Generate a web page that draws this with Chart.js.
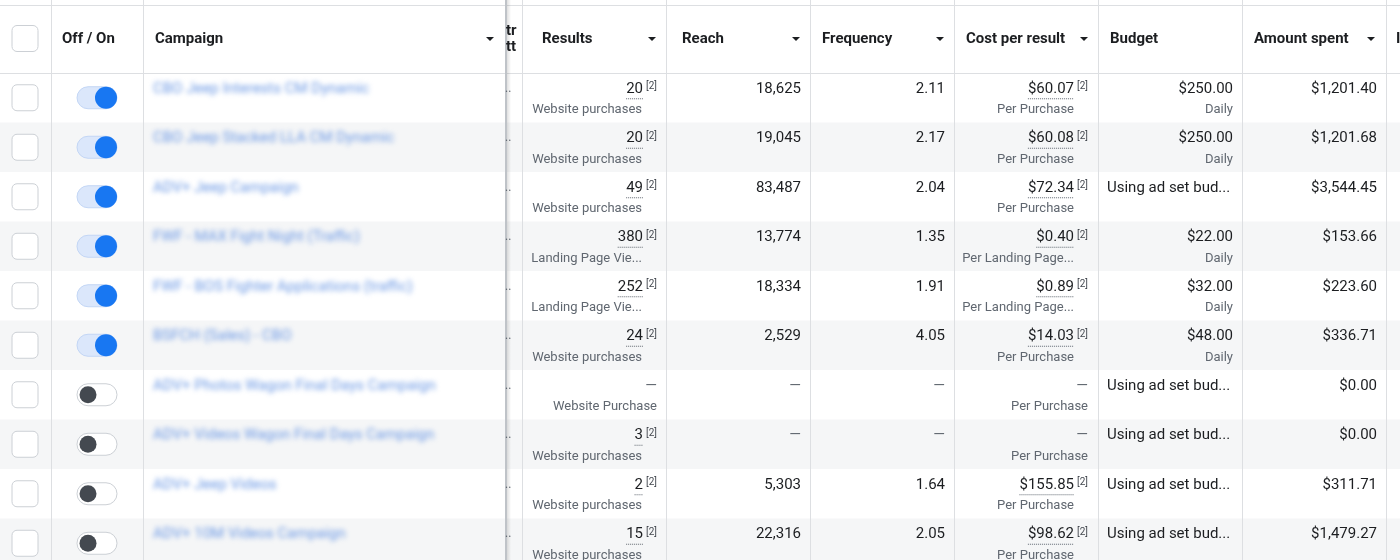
<!DOCTYPE html>
<html>
<head>
<meta charset="utf-8">
<script src="https://cdn.jsdelivr.net/npm/chart.js@4"></script>
<style>
  html, body { margin: 0; padding: 0; background: #fff; }
  #wrap { width: 1400px; height: 560px; }
</style>
</head>
<body>
<div id="wrap"><canvas id="table"></canvas></div>
<script>
'use strict';

const campaigns = ['CBO Jeep Interests CM Dynamic', 'CBO Jeep Stacked LLA CM Dynamic', 'ADV+ Jeep Campaign',
    'FWF - MAX Fight Night (Traffic)', 'FWF - BOS Fighter Applications (traffic)', 'BSFCH (Sales) - CBO',
    'ADV+ Photos Wagon Final Days Campaign', 'ADV+ Videos Wagon Final Days Campaign', 'ADV+ Jeep Videos',
    'ADV+ 10M Videos Campaign'];
const active = [true, true, true, true, true, true, false, false, false, false];
const results = [20, 20, 49, 380, 252, 24, null, 3, 2, 15];
const resultTypes = ['Website purchases', 'Website purchases', 'Website purchases', 'Landing Page Vie...',
    'Landing Page Vie...', 'Website purchases', 'Website Purchase', 'Website purchases', 'Website purchases',
    'Website purchases'];
const reach = [18625, 19045, 83487, 13774, 18334, 2529, null, null, 5303, 22316];
const frequency = [2.11, 2.17, 2.04, 1.35, 1.91, 4.05, null, null, 1.64, 2.05];
const costPerResult = [60.07, 60.08, 72.34, 0.40, 0.89, 14.03, null, null, 155.85, 98.62];
const costTypes = ['Per Purchase', 'Per Purchase', 'Per Purchase', 'Per Landing Page...', 'Per Landing Page...',
    'Per Purchase', 'Per Purchase', 'Per Purchase', 'Per Purchase', 'Per Purchase'];
const budget = [250, 250, null, 22, 32, 48, null, null, null, null];
const spent = [1201.40, 1201.68, 3544.45, 153.66, 223.60, 336.71, 0, 0, 311.71, 1479.27];
const headers = ['Off / On', 'Campaign', 'Results', 'Reach', 'Frequency', 'Cost per result', 'Budget', 'Amount spent'];

// layout (table coordinates, mapped through the chart scales)
const colEdges = [0, 51, 143, 505, 522, 666, 810, 954, 1098, 1242, 1386, 1400];
const headerH = 73;
const rowH = 49.5;
const FONT = 'Roboto, "Helvetica Neue", Arial, sans-serif';

const money = v => '$' + v.toLocaleString('en-US', {minimumFractionDigits: 2, maximumFractionDigits: 2});
const rowY = i => headerH + rowH * i + rowH / 2;

function px(chart, x, y) {
    return [chart.scales.x.getPixelForValue(x), chart.scales.y.getPixelForValue(y)];
}

function roundRect(ctx, x, y, w, h, r) {
    ctx.beginPath();
    ctx.moveTo(x + r, y);
    ctx.arcTo(x + w, y, x + w, y + h, r);
    ctx.arcTo(x + w, y + h, x, y + h, r);
    ctx.arcTo(x, y + h, x, y, r);
    ctx.arcTo(x, y, x + w, y, r);
    ctx.closePath();
}

const tablePlugin = {
    id: 'tableGrid',
    beforeDatasetsDraw(chart) {
        const ctx = chart.ctx;
        ctx.save();
        // zebra rows
        campaigns.forEach((c, i) => {
            if (i % 2 === 1) {
                const [x0, y0] = px(chart, 0, headerH + rowH * i);
                const [x1, y1] = px(chart, 1400, headerH + rowH * (i + 1));
                ctx.fillStyle = '#f5f6f7';
                ctx.fillRect(x0, y0, x1 - x0, y1 - y0);
            }
        });
        // grid lines
        ctx.strokeStyle = '#dddfe2';
        ctx.lineWidth = 1;
        colEdges.slice(1, -1).forEach(e => {
            const [x, y0] = px(chart, e, 0);
            const [, y1] = px(chart, e, 560);
            ctx.beginPath();
            ctx.moveTo(Math.round(x) + 0.5, y0);
            ctx.lineTo(Math.round(x) + 0.5, y1);
            ctx.stroke();
        });
        let [hx0, hy] = px(chart, 0, headerH);
        ctx.beginPath();
        ctx.moveTo(hx0, hy + 0.5);
        ctx.lineTo(chart.scales.x.getPixelForValue(1400), hy + 0.5);
        ctx.stroke();
        let [, ty] = px(chart, 0, 5);
        ctx.beginPath();
        ctx.moveTo(hx0, ty + 0.5);
        ctx.lineTo(chart.scales.x.getPixelForValue(1400), ty + 0.5);
        ctx.stroke();
        // frozen column shadow
        const [sx] = px(chart, 505, 0);
        const grad = ctx.createLinearGradient(sx, 0, sx + 6, 0);
        grad.addColorStop(0, 'rgba(0,0,0,0.18)');
        grad.addColorStop(1, 'rgba(0,0,0,0)');
        ctx.fillStyle = grad;
        ctx.fillRect(sx, 0, 6, chart.height);
        ctx.fillStyle = '#bfc3c8';
        ctx.fillRect(sx, 0, 2, chart.height);

        // checkboxes and toggle tracks
        const boxes = [headerH / 2 + 2].concat(campaigns.map((c, i) => rowY(i)));
        boxes.forEach(cy => {
            const [x, y] = px(chart, 25, cy);
            roundRect(ctx, x - 13, y - 13, 26, 26, 5);
            ctx.fillStyle = '#fff';
            ctx.fill();
            ctx.strokeStyle = '#ccd0d5';
            ctx.stroke();
        });
        campaigns.forEach((c, i) => {
            const [x, y] = px(chart, 97, rowY(i));
            roundRect(ctx, x - 20, y - 11, 40, 22, 11);
            ctx.fillStyle = active[i] ? '#dbe7fb' : '#fff';
            ctx.fill();
            ctx.strokeStyle = active[i] ? '#c3d6f5' : '#ccd0d5';
            ctx.stroke();
        });
        ctx.restore();
    },
    afterDatasetsDraw(chart) {
        const ctx = chart.ctx;
        ctx.save();
        ctx.textBaseline = 'middle';
        const text = (s, x, y, opts = {}) => {
            const [X, Y] = px(chart, x, y);
            ctx.font = opts.font || ('15px ' + FONT);
            ctx.fillStyle = opts.color || '#1c1e21';
            ctx.textAlign = opts.align || 'left';
            ctx.fillText(s, X, Y);
            return [X, Y, ctx.measureText(s).width];
        };
        const caret = (x, y) => {
            const [X, Y] = px(chart, x, y);
            ctx.fillStyle = '#1c1e21';
            ctx.beginPath();
            ctx.moveTo(X - 4, Y - 2);
            ctx.lineTo(X + 4, Y - 2);
            ctx.lineTo(X, Y + 2);
            ctx.fill();
        };
        const ref = (x, y) => text('[2]', x, y - 2, {font: '10px ' + FONT, color: '#444950'});
        const dotted = (X, Y, w) => {
            ctx.strokeStyle = '#606770';
            ctx.setLineDash([1, 1]);
            ctx.beginPath();
            ctx.moveTo(X - w, Y + 10);
            ctx.lineTo(X, Y + 10);
            ctx.stroke();
            ctx.setLineDash([]);
        };

        // header
        const hb = 'bold 15px ' + FONT;
        const hy = 39;
        text(headers[0], 62, hy, {font: hb});
        text(headers[1], 155, hy, {font: hb});
        text('tr', 506, hy - 8, {font: hb});
        text('tt', 506, hy + 8, {font: hb});
        [[2, 542], [3, 682], [4, 822], [5, 966], [6, 1110], [7, 1254]].forEach(([h, x]) => text(headers[h], x, hy, {font: hb}));
        text('I', 1396, hy, {font: hb});
        [490, 652, 796, 940, 1084, 1371].forEach(x => caret(x, hy));

        const sub = '13px ' + FONT;
        const grey = '#606770';
        campaigns.forEach((c, i) => {
            const y = rowY(i);
            const yt = y - 9, yb = y + 12;
            // blurred campaign name
            ctx.save();
            ctx.filter = 'blur(2.5px)';
            text(c, 153, yt, {color: '#6b98e4'});
            ctx.restore();
            text('..', 505, yt, {color: '#606770', font: '12px ' + FONT});

            // results
            if (results[i] !== null) {
                const [X, Y, w] = text(String(results[i]), 643, yt, {align: 'right'});
                dotted(X, Y, w);
                ref(646, yt);
                text(resultTypes[i], 642, yb, {align: 'right', font: sub, color: grey});
            } else {
                text('—', 657, yt, {align: 'right', color: grey});
                text(resultTypes[i], 657, yb, {align: 'right', font: sub, color: grey});
            }
            text(reach[i] !== null ? reach[i].toLocaleString('en-US') : '—', 801, yt, {align: 'right', color: reach[i] !== null ? '#1c1e21' : grey});
            text(frequency[i] !== null ? frequency[i].toFixed(2) : '—', 945, yt, {align: 'right', color: frequency[i] !== null ? '#1c1e21' : grey});
            if (costPerResult[i] !== null) {
                const [X, Y, w] = text(money(costPerResult[i]), 1074, yt, {align: 'right'});
                dotted(X, Y, w);
                ref(1077, yt);
                text(costTypes[i], 1074, yb, {align: 'right', font: sub, color: grey});
            } else {
                text('—', 1088, yt, {align: 'right', color: grey});
                text(costTypes[i], 1088, yb, {align: 'right', font: sub, color: grey});
            }
            if (budget[i] !== null) {
                text(money(budget[i]), 1233, yt, {align: 'right'});
                text('Daily', 1233, yb, {align: 'right', font: sub, color: grey});
            } else {
                text('Using ad set bud...', 1107, yt);
            }
            text(money(spent[i]), 1377, yt, {align: 'right'});
        });
        ctx.restore();
    }
};

new Chart(document.getElementById('table'), {
    type: 'scatter',
    data: {
        datasets: [{
            data: campaigns.map((c, i) => ({x: active[i] ? 106 : 88, y: rowY(i)})),
            pointRadius: campaigns.map((c, i) => active[i] ? 11 : 8.5),
            pointBackgroundColor: active.map(a => a ? '#1877f2' : '#444950'),
            pointBorderWidth: 0,
            pointHoverRadius: 11,
            clip: false
        }]
    },
    options: {
        responsive: true,
        maintainAspectRatio: false,
        animation: false,
        layout: {padding: 0, autoPadding: false},
        plugins: {legend: {display: false}, tooltip: {enabled: false}},
        scales: {
            x: {type: 'linear', min: 0, max: 1400, display: false},
            y: {type: 'linear', min: 0, max: 560, reverse: true, display: false}
        }
    },
    plugins: [tablePlugin]
});
</script>
</body>
</html>
